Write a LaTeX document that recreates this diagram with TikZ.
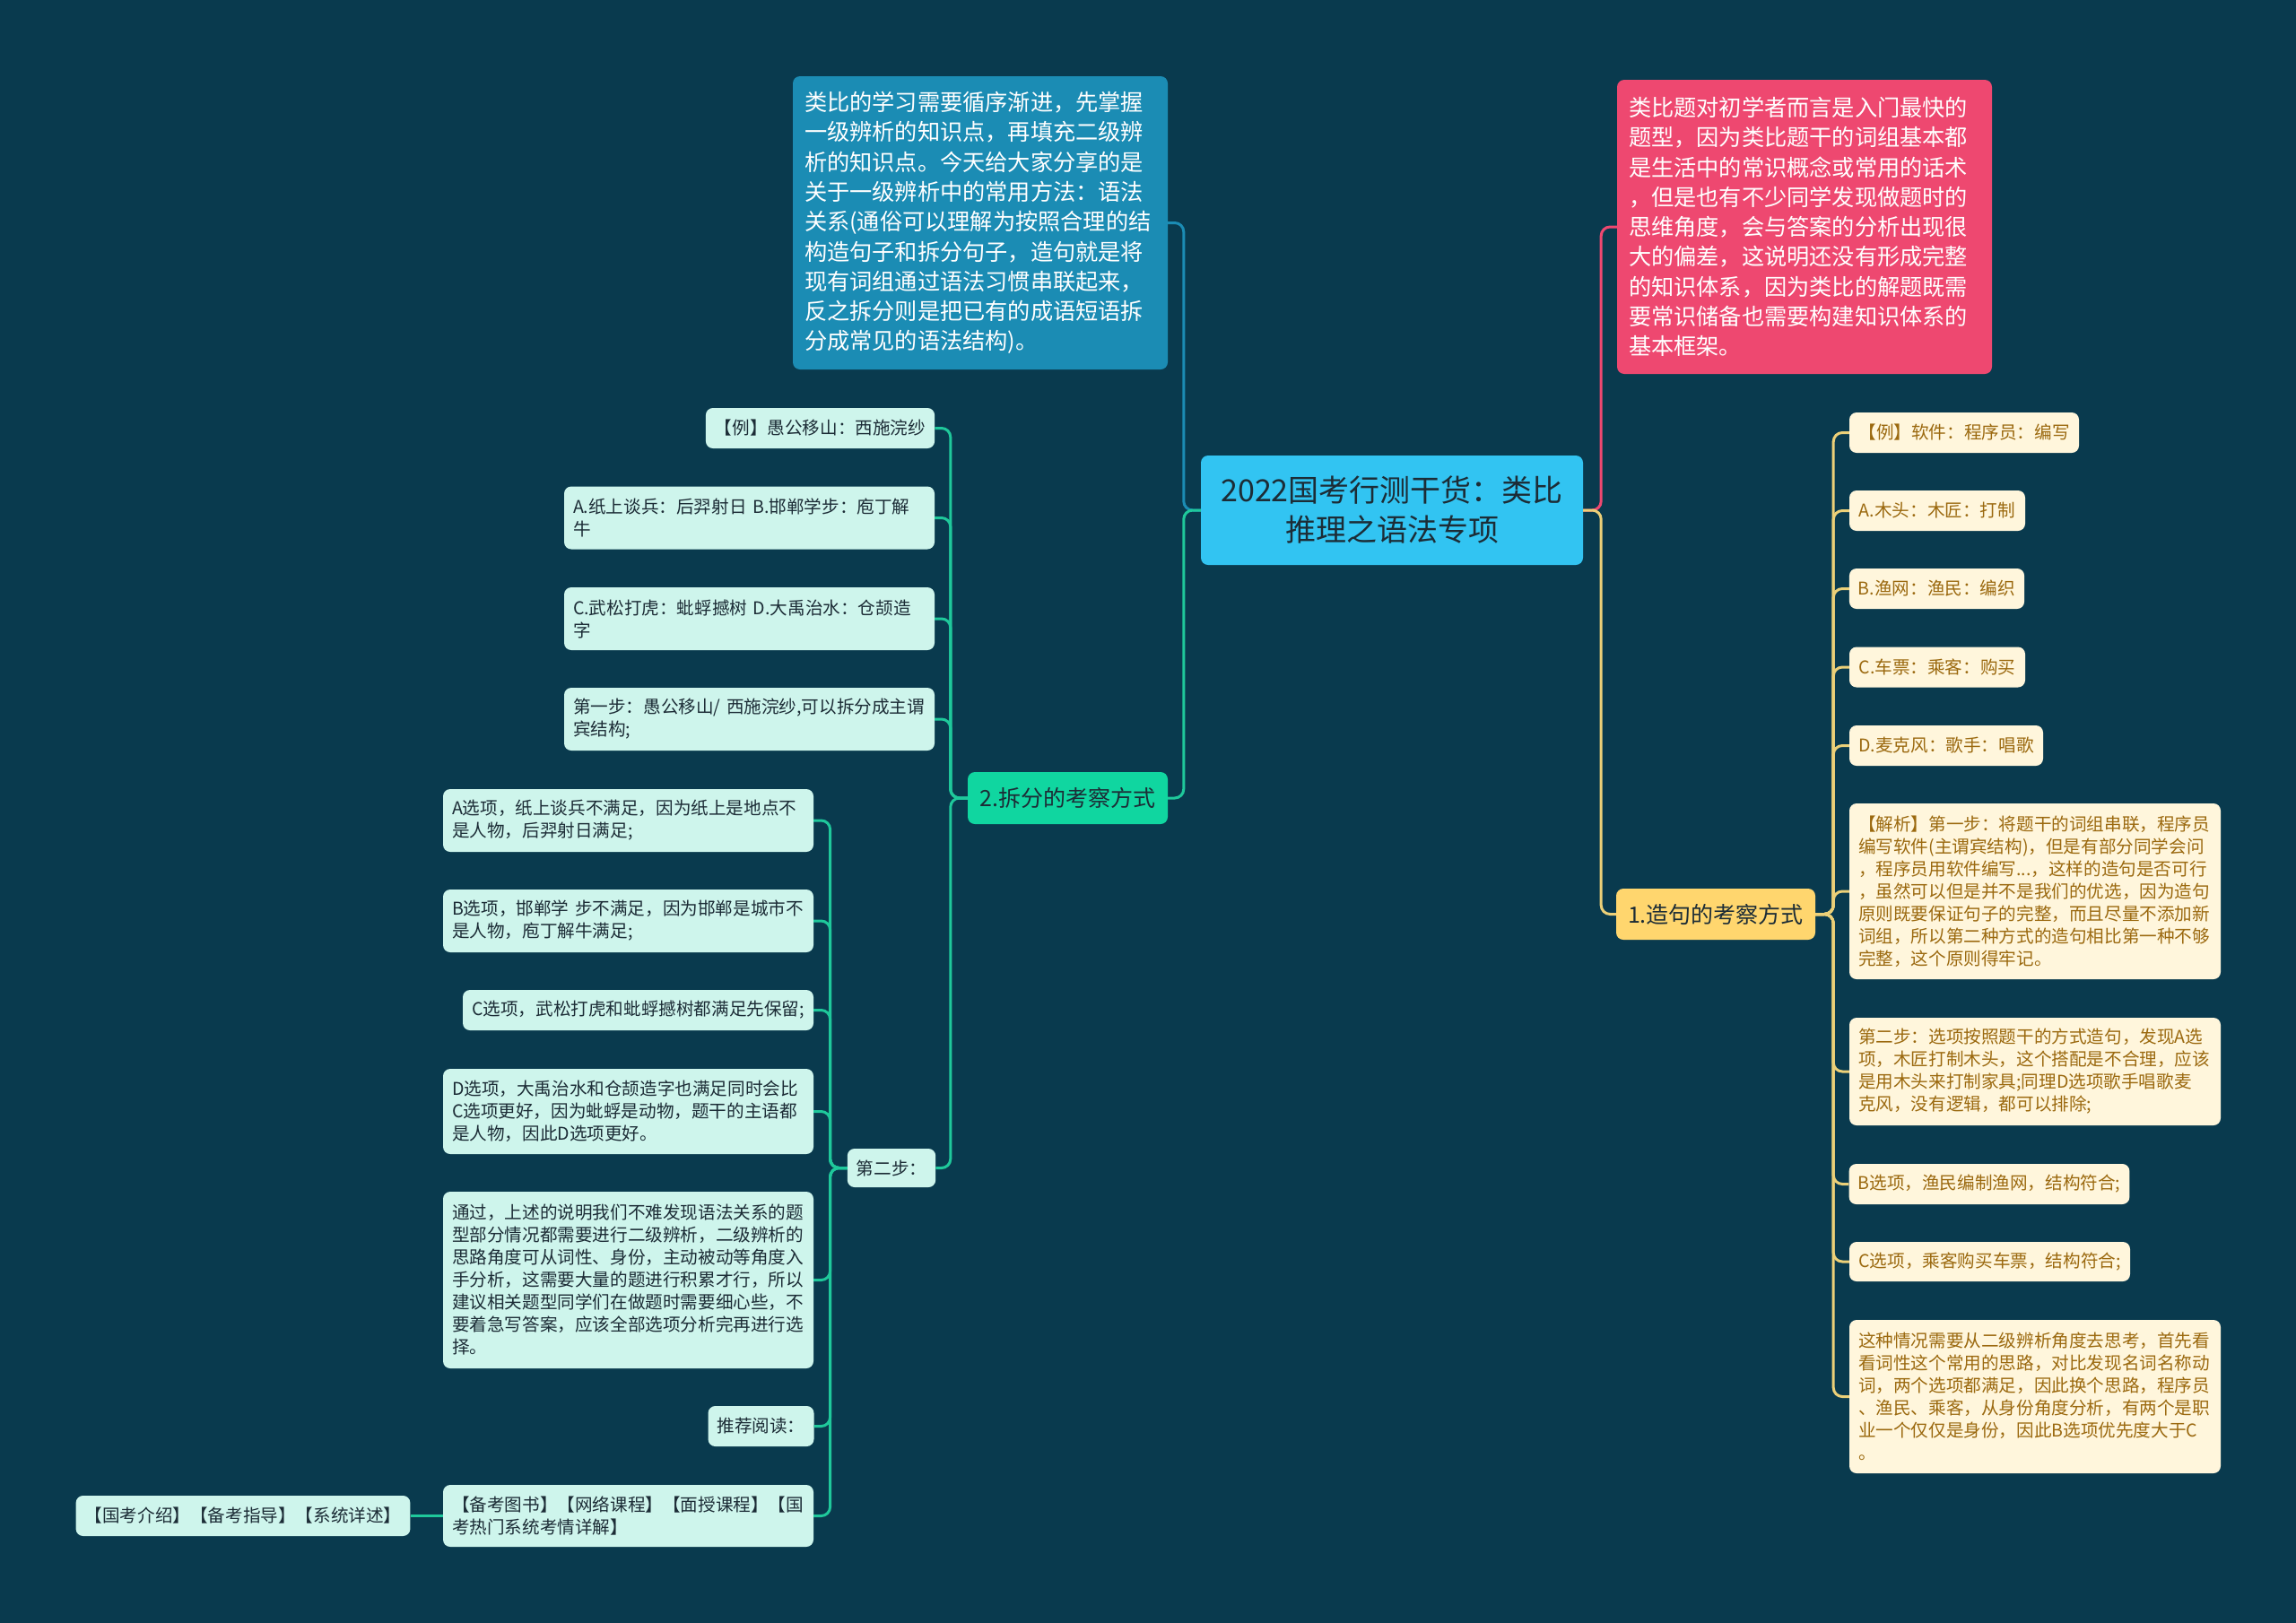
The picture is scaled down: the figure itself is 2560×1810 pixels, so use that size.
\documentclass[tikz,border=0pt]{standalone}
\usepackage{fontspec}
\setmainfont{Noto Sans CJK SC}
\usetikzlibrary{positioning}
\definecolor{bgc}{RGB}{9,58,78}
\definecolor{rootc}{RGB}{50,196,242}
\definecolor{introc}{RGB}{27,140,180}
\definecolor{pinkc}{RGB}{238,72,112}
\definecolor{brg}{RGB}{16,214,160}
\definecolor{bry}{RGB}{255,214,110}
\definecolor{leafg}{RGB}{206,245,236}
\definecolor{leafy}{RGB}{255,246,220}
\definecolor{lineg}{RGB}{31,200,155}
\definecolor{liney}{RGB}{236,208,120}
\definecolor{inkd}{RGB}{28,44,54}
\definecolor{inky}{RGB}{155,105,15}

\begin{document}
\begin{tikzpicture}[x=1pt, y=-1pt,
  rt/.style={fill=rootc, text=inkd, rounded corners=8pt, align=center,
             minimum width=426pt, minimum height=122pt,
             font=\fontsize{34}{44}\selectfont},
  hb/.style={text=white, rounded corners=8pt, align=left,
             inner xsep=13pt, text width=392pt,
             font=\fontsize{25.2}{33.3}\selectfont},
  br/.style={text=inkd, rounded corners=8pt, minimum height=58pt,
             minimum width=223pt, font=\fontsize{25}{30}\selectfont},
  gl/.style={fill=leafg, text=inkd, rounded corners=8pt, align=left,
             inner xsep=10pt, inner ysep=3pt, minimum height=45pt,
             font=\fontsize{19.6}{25}\selectfont},
  yl/.style={gl, fill=leafy, text=inky},
  ln/.style={line width=3pt, rounded corners=10pt},
  gln/.style={ln, draw=lineg},
  yln/.style={ln, draw=liney}
]
  \fill[bgc] (0,0) rectangle (2560,1810);

  % centre
  \node[rt] (rt) at (1552,569) {2022国考行测干货：类比\\推理之语法专项};

  % top boxes
  \node[hb, fill=introc, minimum height=327pt] (intro) at (1093,248.5)
    {类比的学习需要循序渐进，先掌握\\一级辨析的知识点，再填充二级辨\\析的知识点。今天给大家分享的是\\关于一级辨析中的常用方法：语法\\关系(通俗可以理解为按照合理的结\\构造句子和拆分句子，造句就是将\\现有词组通过语法习惯串联起来，\\反之拆分则是把已有的成语短语拆\\分成常见的语法结构)。};
  \node[hb, fill=pinkc, minimum height=328pt] (pk) at (2012,253)
    {类比题对初学者而言是入门最快的\\题型，因为类比题干的词组基本都\\是生活中的常识概念或常用的话术\\，但是也有不少同学发现做题时的\\思维角度，会与答案的分析出现很\\大的偏差，这说明还没有形成完整\\的知识体系，因为类比的解题既需\\要常识储备也需要构建知识体系的\\基本框架。};

  % branches
  \node[br, fill=brg] (b2) at (1190.5,890) {2.拆分的考察方式};
  \node[br, fill=bry, minimum width=222pt, minimum height=57pt] (b1) at (1913,1019.5) {1.造句的考察方式};

  % left side
  \node[gl, minimum width=255pt] (ex2) at (914.5,477.5) {【例】愚公移山：西施浣纱};
  \node[gl, text width=393pt, minimum height=70pt] (a2) at (835.5,577.5)
    {A.纸上谈兵：后羿射日 B.邯郸学步：庖丁解\\牛};
  \node[gl, text width=393pt, minimum height=70pt] (c2) at (835.5,690)
    {C.武松打虎：蚍蜉撼树 D.大禹治水：仓颉造\\字};
  \node[gl, text width=393pt, minimum height=70pt] (st1) at (835.5,802)
    {第一步：愚公移山/ 西施浣纱,可以拆分成主谓\\宾结构;};
  \node[gl, minimum width=98pt, minimum height=43pt] (st2) at (994,1302.5) {第二步：};

  \node[gl, text width=393pt, minimum height=70pt] (sa) at (700.5,915)
    {A选项，纸上谈兵不满足，因为纸上是地点不\\是人物，后羿射日满足;};
  \node[gl, text width=393pt, minimum height=70pt] (sb) at (700.5,1027)
    {B选项，邯郸学 步不满足，因为邯郸是城市不\\是人物，庖丁解牛满足;};
  \node[gl, minimum width=391pt] (sc) at (711.5,1126.5) {C选项，武松打虎和蚍蜉撼树都满足先保留;};
  \node[gl, text width=393pt, minimum height=95pt] (sd) at (700.5,1239.5)
    {D选项，大禹治水和仓颉造字也满足同时会比\\C选项更好，因为蚍蜉是动物，题干的主语都\\是人物，因此D选项更好。};
  \node[gl, text width=393pt, minimum height=197pt] (se) at (700.5,1427.5)
    {通过，上述的说明我们不难发现语法关系的题\\型部分情况都需要进行二级辨析，二级辨析的\\思路角度可从词性、身份，主动被动等角度入\\手分析，这需要大量的题进行积累才行，所以\\建议相关题型同学们在做题时需要细心些，不\\要着急写答案，应该全部选项分析完再进行选\\择。};
  \node[gl, minimum width=117pt] (sf) at (848.5,1590.5) {推荐阅读：};
  \node[gl, text width=393pt, minimum height=69pt] (sg) at (700.5,1690.5)
    {【备考图书】【网络课程】【面授课程】【国\\考热门系统考情详解】};
  \node[gl, minimum width=372pt] (sh) at (271,1690.5) {【国考介绍】【备考指导】【系统详述】};

  % right side
  \node[yl, minimum width=256pt] (y0) at (2190,482.5) {【例】软件：程序员：编写};
  \node[yl, minimum width=196pt] (ya) at (2160,569.5) {A.木头：木匠：打制};
  \node[yl, minimum width=195pt] (yb) at (2159.5,656.5) {B.渔网：渔民：编织};
  \node[yl, minimum width=196pt] (yc) at (2160,744) {C.车票：乘客：购买};
  \node[yl, minimum width=216pt] (yd) at (2170,831.5) {D.麦克风：歌手：唱歌};
  \node[yl, text width=394pt, minimum height=196pt] (ye) at (2269,994)
    {【解析】第一步：将题干的词组串联，程序员\\编写软件(主谓宾结构)，但是有部分同学会问\\，程序员用软件编写...，这样的造句是否可行\\，虽然可以但是并不是我们的优选，因为造句\\原则既要保证句子的完整，而且尽量不添加新\\词组，所以第二种方式的造句相比第一种不够\\完整，这个原则得牢记。};
  \node[yl, text width=394pt, minimum height=120pt] (yf) at (2269,1195)
    {第二步：选项按照题干的方式造句，发现A选\\项，木匠打制木头，这个搭配是不合理，应该\\是用木头来打制家具;同理D选项歌手唱歌麦\\克风，没有逻辑，都可以排除;};
  \node[yl, minimum width=312pt] (yg) at (2218,1320.5) {B选项，渔民编制渔网，结构符合;};
  \node[yl, minimum width=313pt, minimum height=44pt] (yh) at (2218.5,1407) {C选项，乘客购买车票，结构符合;};
  \node[yl, text width=394pt, minimum height=171pt] (yi) at (2269,1557.5)
    {这种情况需要从二级辨析角度去思考，首先看\\看词性这个常用的思路，对比发现名词名称动\\词，两个选项都满足，因此换个思路，程序员\\、渔民、乘客，从身份角度分析，有两个是职\\业一个仅仅是身份，因此B选项优先度大于C\\。};

  % connectors
  \draw[ln, draw=introc] (rt.west) -- ++(-19,0) |- (intro.east);
  \draw[gln] (rt.west) -- ++(-19,0) |- (b2.east);
  \draw[ln, draw=pinkc] (rt.east) -- ++(20,0) |- (pk.west);
  \draw[yln] (rt.east) -- ++(20,0) |- (b1.west);

  \draw[gln] (b2.west) -- ++(-19,0) |- (ex2.east);
  \draw[gln] (b2.west) -- ++(-19,0) |- (a2.east);
  \draw[gln] (b2.west) -- ++(-19,0) |- (c2.east);
  \draw[gln] (b2.west) -- ++(-19,0) |- (st1.east);
  \draw[gln] (b2.west) -- ++(-19,0) |- (st2.east);

  \draw[gln] (st2.west) -- ++(-19,0) |- (sa.east);
  \draw[gln] (st2.west) -- ++(-19,0) |- (sb.east);
  \draw[gln] (st2.west) -- ++(-19,0) |- (sc.east);
  \draw[gln] (st2.west) -- ++(-19,0) |- (sd.east);
  \draw[gln] (st2.west) -- ++(-19,0) |- (se.east);
  \draw[gln] (st2.west) -- ++(-19,0) |- (sf.east);
  \draw[gln] (st2.west) -- ++(-19,0) |- (sg.east);
  \draw[gln] (sg.west) -- (sh.east);

  \draw[yln] (b1.east) -- ++(20,0) |- (y0.west);
  \draw[yln] (b1.east) -- ++(20,0) |- (ya.west);
  \draw[yln] (b1.east) -- ++(20,0) |- (yb.west);
  \draw[yln] (b1.east) -- ++(20,0) |- (yc.west);
  \draw[yln] (b1.east) -- ++(20,0) |- (yd.west);
  \draw[yln] (b1.east) -- ++(20,0) |- (ye.west);
  \draw[yln] (b1.east) -- ++(20,0) |- (yf.west);
  \draw[yln] (b1.east) -- ++(20,0) |- (yg.west);
  \draw[yln] (b1.east) -- ++(20,0) |- (yh.west);
  \draw[yln] (b1.east) -- ++(20,0) |- (yi.west);
\end{tikzpicture}
\end{document}
